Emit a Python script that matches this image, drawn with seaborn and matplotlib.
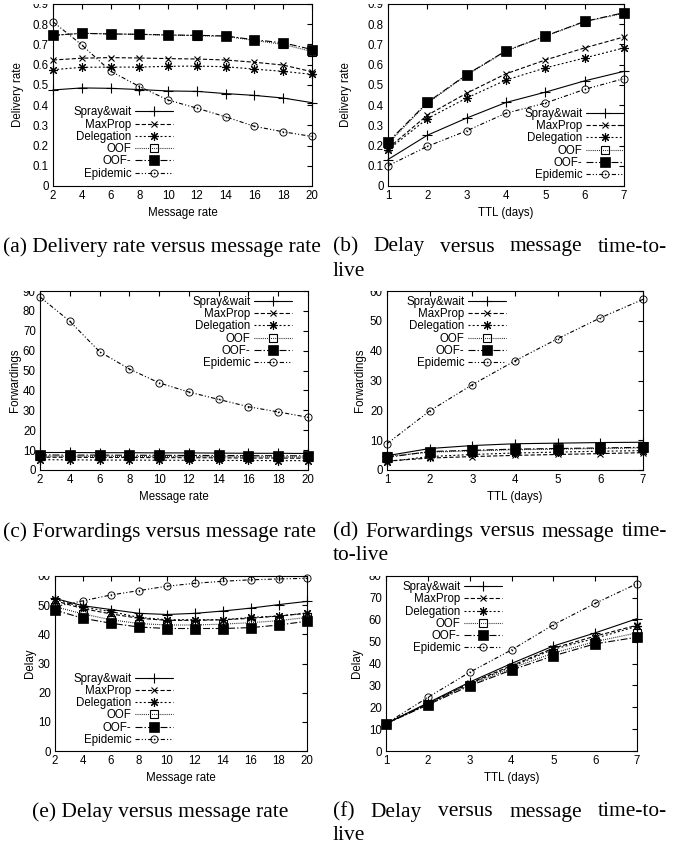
import numpy as np
import pandas as pd
import matplotlib
matplotlib.use("Agg")
import matplotlib.pyplot as plt
import matplotlib.ticker as mticker
from matplotlib.patches import Rectangle
import seaborn as sns

# ── Style ────────────────────────────────────────────────────
sns.set_theme(style="white")
plt.rcParams.update({
    'font.size': 8.3,
    'axes.edgecolor': 'black',
    'axes.linewidth': 0.8,
    'lines.scale_dashes': False,
    'xtick.color': 'black',
    'ytick.color': 'black',
    'text.color': 'black',
    'axes.labelcolor': 'black',
})
plt.rcParams['font.family'] = ['Liberation Sans', 'DejaVu Sans']

# ── Data ─────────────────────────────────────────────────────
protocols = ['Spray&wait', 'MaxProp', 'Delegation', 'OOF', 'OOF-', 'Epidemic']
msg_rate = [2, 4, 6, 8, 10, 12, 14, 16, 18, 20]
ttl_days = [1, 2, 3, 4, 5, 6, 7]

# (a) delivery rate vs message rate
a_spray = [0.475, 0.485, 0.483, 0.477, 0.470, 0.468, 0.457, 0.448, 0.435, 0.412]
a_maxprop = [0.623, 0.632, 0.635, 0.633, 0.630, 0.628, 0.623, 0.612, 0.598, 0.565]
a_deleg = [0.575, 0.587, 0.588, 0.588, 0.592, 0.593, 0.590, 0.578, 0.567, 0.552]
a_oof = [0.745, 0.755, 0.752, 0.750, 0.746, 0.744, 0.740, 0.720, 0.700, 0.665]
a_oofm = [0.745, 0.755, 0.752, 0.750, 0.747, 0.745, 0.742, 0.723, 0.708, 0.675]
a_epid = [0.812, 0.698, 0.568, 0.492, 0.425, 0.385, 0.342, 0.295, 0.268, 0.245]

# (b) delivery rate vs TTL
b_spray = [0.131, 0.251, 0.336, 0.413, 0.464, 0.520, 0.567]
b_maxprop = [0.186, 0.350, 0.459, 0.555, 0.623, 0.683, 0.737]
b_deleg = [0.179, 0.333, 0.435, 0.524, 0.584, 0.633, 0.683]
b_oof = [0.210, 0.410, 0.548, 0.667, 0.741, 0.812, 0.855]
b_oofm = [0.217, 0.413, 0.551, 0.669, 0.742, 0.814, 0.857]
b_epid = [0.100, 0.196, 0.273, 0.360, 0.410, 0.478, 0.531]

# (c) forwardings vs message rate
c_spray = [8.8, 8.8, 8.7, 8.7, 8.6, 8.6, 8.5, 8.4, 8.4, 8.3]
c_maxprop = [6.4, 6.4, 6.3, 6.3, 6.2, 6.2, 6.1, 6.0, 6.0, 5.9]
c_deleg = [5.2, 5.1, 5.0, 5.0, 4.9, 4.9, 4.8, 4.8, 4.7, 4.7]
c_oof = [7.0, 6.9, 6.9, 6.8, 6.8, 6.7, 6.7, 6.6, 6.6, 6.5]
c_oofm = [7.6, 7.5, 7.5, 7.4, 7.4, 7.3, 7.3, 7.2, 7.2, 7.1]
c_epid = [87.0, 74.8, 59.5, 50.8, 43.8, 39.2, 35.5, 31.8, 29.2, 26.5]

# (d) forwardings vs TTL
d_spray = [4.8, 7.2, 8.2, 8.8, 9.0, 9.2, 9.3]
d_maxprop = [3.0, 4.0, 4.5, 4.9, 5.2, 5.5, 5.8]
d_deleg = [2.8, 4.5, 5.2, 5.7, 6.0, 6.3, 6.5]
d_oof = [4.6, 6.0, 6.4, 6.8, 7.0, 7.2, 7.4]
d_oofm = [4.2, 6.2, 6.6, 7.0, 7.2, 7.4, 7.6]
d_epid = [8.8, 19.8, 28.6, 36.6, 44.0, 51.0, 57.2]

# (e) delay vs message rate
e_spray = [52.3, 49.8, 48.5, 47.2, 46.8, 47.2, 48.0, 49.0, 50.2, 51.3]
e_maxprop = [51.5, 48.8, 47.0, 45.5, 44.8, 44.8, 45.0, 45.5, 46.3, 47.2]
e_deleg = [52.0, 49.3, 47.8, 45.8, 45.0, 45.0, 45.0, 45.8, 46.3, 47.3]
e_oof = [49.5, 47.0, 45.0, 43.7, 43.2, 43.2, 43.5, 44.0, 44.7, 45.8]
e_oofm = [48.3, 45.5, 43.8, 42.5, 42.0, 42.0, 42.0, 42.3, 43.2, 44.5]
e_epid = [49.5, 51.5, 53.5, 55.0, 56.5, 57.5, 58.2, 58.7, 59.0, 59.2]

# (f) delay vs TTL
f_spray = [12.5, 22.0, 31.5, 40.0, 48.0, 54.0, 60.5]
f_maxprop = [12.5, 21.7, 31.0, 39.0, 47.0, 52.5, 57.5]
f_deleg = [12.5, 21.5, 30.8, 38.5, 46.5, 51.5, 57.0]
f_oof = [12.5, 21.3, 30.3, 37.8, 44.8, 50.0, 54.0]
f_oofm = [12.5, 21.1, 29.8, 37.0, 43.5, 49.0, 52.0]
f_epid = [12.5, 24.5, 36.0, 46.2, 57.7, 67.5, 76.5]

# ── Line styles (gnuplot-like, black) ────────────────────────
STYLE = {
    'Spray&wait': dict(linestyle='-', marker='+', markersize=7, markeredgewidth=0.8),
    'MaxProp': dict(linestyle=(0, (3, 1.5)), marker='x', markersize=5, markeredgewidth=0.8),
    'Delegation': dict(linestyle=(0, (1.4, 1.6)), marker=(8, 2, 0), markersize=6.5, markeredgewidth=0.8),
    'OOF': dict(linestyle=(0, (0.6, 0.9)), marker='s', markersize=5.5, markerfacecolor='none',
                markeredgewidth=0.8),
    'OOF-': dict(linestyle=(0, (5, 1.5, 1, 1.5)), marker='s', markersize=6.5, markerfacecolor='black',
                 markeredgewidth=0.5),
    'Epidemic': dict(linestyle=(0, (3, 1.5, 0.8, 1.5, 0.8, 1.5)), marker='$\\odot$', markersize=5.8,
                     markerfacecolor='black', markeredgewidth=0),
}

W, H = 678, 848
fig = plt.figure(figsize=(W / 100, H / 100), dpi=100)


def px_axes(l, t, r, b):
    return fig.add_axes([l / W, 1 - b / H, (r - l) / W, (b - t) / H])


def draw_panel(ax, box, x, ys, yticks, xlabel, ylabel, ylab_px, leg_loc, leg_xy):
    l, t, r, b = box
    df = pd.DataFrame({
        'x': np.tile(x, len(protocols)),
        'y': np.concatenate(ys),
        'protocol': np.repeat(protocols, len(x)),
    })
    for name in protocols:
        sns.lineplot(data=df[df['protocol'] == name], x='x', y='y', ax=ax,
                     color='black', linewidth=0.8, label=name, errorbar=None,
                     markeredgecolor='black', clip_on=False, **STYLE[name])
    ax.set_xlim(x[0], x[-1])
    ax.set_ylim(yticks[0], yticks[-1])
    ax.set_xticks(x)
    ax.set_yticks(yticks)
    ax.yaxis.set_major_formatter(mticker.FuncFormatter(lambda v, _: f'{round(v, 2):g}'))
    ax.tick_params(direction='in', top=True, right=True, length=3.6, width=0.8,
                   labelsize=8.3, pad=3)
    for s in ax.spines.values():
        s.set_visible(True)
        s.set_linewidth(0.8)
    ax.set_xlabel(xlabel, fontsize=8.3, va='center')
    ax.xaxis.set_label_coords(0.5, -27 / (b - t))
    ax.set_ylabel(ylabel, fontsize=8.3, va='center')
    ax.yaxis.set_label_coords(-ylab_px / (r - l), 0.5)
    ax.legend(loc=leg_loc, bbox_to_anchor=leg_xy, frameon=False, markerfirst=False,
              fontsize=8.3, handlelength=3.3, handletextpad=0.3, labelspacing=0.02,
              borderpad=0, borderaxespad=0, numpoints=1)
    # the top y tick label is cut at the plot border in the original
    fig.add_artist(Rectangle(((l - 45) / W, 1 - (t - 0.5) / H), 43 / W, 14 / H,
                             transform=fig.transFigure, facecolor='white',
                             edgecolor='none', zorder=10))


boxes = {
    'a': (53, 4, 312, 186), 'b': (388, 4, 624, 186),
    'c': (40, 291, 308, 470), 'd': (387, 291, 643, 470),
    'e': (55, 576, 307, 751), 'f': (386, 576, 637, 751),
}

draw_panel(px_axes(*boxes['a']), boxes['a'], msg_rate,
           [a_spray, a_maxprop, a_deleg, a_oof, a_oofm, a_epid],
           np.arange(0, 0.91, 0.1), 'Message rate', 'Delivery rate', 35,
           'lower right', (0.463, 0.035))
draw_panel(px_axes(*boxes['b']), boxes['b'], ttl_days,
           [b_spray, b_maxprop, b_deleg, b_oof, b_oofm, b_epid],
           np.arange(0, 0.91, 0.1), 'TTL (days)', 'Delivery rate', 42,
           'lower right', (1.0, 0.027))
draw_panel(px_axes(*boxes['c']), boxes['c'], msg_rate,
           [c_spray, c_maxprop, c_deleg, c_oof, c_oofm, c_epid],
           np.arange(0, 91, 10), 'Message rate', 'Forwardings', 25,
           'upper right', (0.94, 0.972))
draw_panel(px_axes(*boxes['d']), boxes['d'], ttl_days,
           [d_spray, d_maxprop, d_deleg, d_oof, d_oofm, d_epid],
           np.arange(0, 61, 10), 'TTL (days)', 'Forwardings', 27,
           'upper right', (0.465, 0.972))
draw_panel(px_axes(*boxes['e']), boxes['e'], msg_rate,
           [e_spray, e_maxprop, e_deleg, e_oof, e_oofm, e_epid],
           np.arange(0, 61, 10), 'Message rate', 'Delay', 25,
           'lower right', (0.468, 0.029))
draw_panel(px_axes(*boxes['f']), boxes['f'], ttl_days,
           [f_spray, f_maxprop, f_deleg, f_oof, f_oofm, f_epid],
           np.arange(0, 81, 10), 'TTL (days)', 'Delay', 29,
           'upper right', (0.462, 0.971))

# ── Captions (serif, right column justified like LaTeX) ──────
CAP = dict(fontsize=15.4, family=['Liberation Serif', 'DejaVu Serif'], va='center', ha='left')
renderer = fig.canvas.get_renderer()


def caption(text, x0, y, x1=None):
    if x1 is None:
        fig.text(x0 / W, 1 - y / H, text, **CAP)
        return
    words = [fig.text(0, 0, w, **CAP) for w in text.split()]
    widths = [w.get_window_extent(renderer).width for w in words]
    gap = (x1 - x0 - sum(widths)) / (len(words) - 1)
    xpos = x0
    for w, wd in zip(words, widths):
        w.set_position((xpos / W, 1 - y / H))
        xpos += wd + gap


caption('(a) Delivery rate versus message rate', 3, 247)
caption('(b) Delay versus message time-to-', 333, 247, 667)
caption('live', 333, 271)
caption('(c) Forwardings versus message rate', 3, 532)
caption('(d) Forwardings versus message time-', 333, 532, 667)
caption('to-live', 333, 556)
caption('(e) Delay versus message rate', 32, 812)
caption('(f) Delay versus message time-to-', 333, 812, 667)
caption('live', 333, 836)

fig.savefig('out.png', dpi=100)
